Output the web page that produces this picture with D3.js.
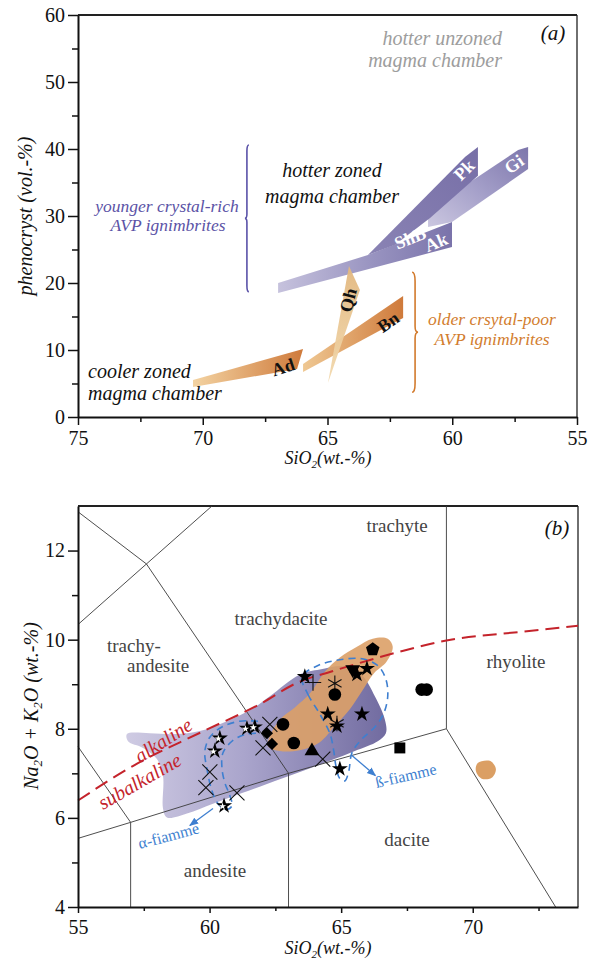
<!DOCTYPE html>
<html>
<head>
<meta charset="utf-8">
<script src="https://cdn.jsdelivr.net/npm/d3@7"></script>
</head>
<body style="margin:0">
<svg id="chart" width="593" height="964"></svg>
<script>
// ---------- Panel (a): phenocryst content vs SiO2 trend bands ----------
const bandAd = [[70.39, 5.52], [65.98, 10.15], [66.22, 7.16], [70.39, 4.48]];
const bandBn = [[65.98, 7.91], [61.97, 18.06], [61.97, 14.78], [65.98, 6.72]];
const bandQh = [[64.14, 22.54], [63.70, 18.96], [64.98, 5.07]];
const bandTrunk = [[66.98, 20.0], [63.38, 24.18], [60.01, 29.1], [60.01, 25.37], [66.98, 18.5]];
const bandPk = [[63.38, 24.18], [59.49, 38.8], [58.97, 40.3], [58.97, 36.0], [60.89, 29.7], [62.29, 25.7]];
const bandGi = [[60.97, 28.36], [60.97, 30.9], [57.36, 39.85], [56.96, 40.3], [56.96, 37.0], [60.01, 29.1]];

const bandLabels = [
  { t: "Pk",  si: 59.53, ph: 36.87, rot: -45, fill: "#fff" },
  { t: "Gi",  si: 57.53, ph: 37.76, rot: -35, fill: "#fff" },
  { t: "ShB", si: 61.69, ph: 26.72, rot: -22, fill: "#fff" },
  { t: "Ak",  si: 60.65, ph: 26.12, rot: -22, fill: "#fff" },
  { t: "Ad",  si: 66.78, ph: 7.46,  rot: -18, fill: "#111" },
  { t: "Bn",  si: 62.57, ph: 14.18, rot: -35, fill: "#111" },
  { t: "Qh",  si: 64.18, ph: 17.46, rot: -75, fill: "#111" }
];

// braces: [SiO2, top, bottom]
const braceYoung = [68.23, 40.6, 18.7];
const braceOld = [61.49, 21.6, 3.7];

const aXMajor = [75, 70, 65, 60, 55];
const aXMinor = [72.5, 67.5, 62.5, 57.5];
const aYMajor = [0, 10, 20, 30, 40, 50, 60];
const aYMinor = [5, 15, 25, 35, 45, 55];

// ---------- Panel (b): TAS diagram ----------
const tasLines = [
  [[55, 12.87], [57.6, 11.7], [63, 7]],
  [[55, 10.34], [60.09, 13]],
  [[55, 7.6], [57, 5.9]],
  [[55, 5.54], [57, 5.9], [63, 7], [69, 8]],
  [[57, 5.9], [57, 4]],
  [[63, 7], [63, 4]],
  [[69, 8], [69, 13]],
  [[69, 8], [73.15, 4]]
];

const alkSi = [55, 57.1, 59.6, 61.84, 63.43, 64.6, 67.23, 69, 71.9, 74];
const alkY  = [6.39, 7.17, 7.9, 8.53, 9.06, 9.28, 9.73, 9.98, 10.18, 10.31];

const fieldPurple = [
  [56.86, 7.88], [57.73, 7.90], [58.68, 7.88], [59.63, 7.95], [60.66, 8.17], [61.65, 8.46],
  [62.29, 8.73], [63.43, 9.22], [64.19, 9.33], [65.14, 9.40], [65.79, 9.20], [66.28, 8.73],
  [66.66, 8.21], [66.70, 7.90], [66.39, 7.72], [65.52, 7.50], [64.57, 7.28], [63.43, 7.03],
  [62.18, 6.76], [61.15, 6.54], [60.13, 6.32], [59.14, 6.10], [58.38, 6.01], [58.23, 6.21],
  [58.23, 6.94], [58.00, 7.32], [57.47, 7.57], [56.90, 7.72]
];
const fieldOrange = [
  [62.29, 7.83], [62.67, 8.21], [63.24, 8.48], [63.81, 8.79], [64.38, 9.28], [64.95, 9.60],
  [65.60, 9.84], [66.20, 10.02], [66.77, 10.02], [66.96, 9.84], [66.73, 9.51], [66.24, 9.24],
  [65.79, 8.84], [65.33, 8.44], [64.76, 8.06], [64.19, 7.70], [63.43, 7.52], [62.67, 7.50],
  [62.22, 7.61]
];
const fieldOrangeSmall = [[70.19, 7.23], [70.65, 7.28], [70.88, 7.10], [70.72, 6.90], [70.34, 6.88], [70.12, 7.05]];

const alphaOutline = [
  [61.84, 8.17], [61.15, 8.17], [60.47, 8.04], [60.01, 7.81], [59.82, 7.50], [59.90, 7.10],
  [60.09, 6.61], [60.32, 6.32], [60.62, 6.19], [60.85, 6.27], [60.77, 6.50], [60.58, 6.79],
  [60.47, 7.12], [60.51, 7.46], [60.85, 7.72], [61.38, 7.88], [61.84, 7.90]
];
const betaOutline = [
  [63.51, 9.17], [63.74, 8.77], [64.19, 8.33], [64.57, 7.90], [64.72, 7.50], [64.80, 7.17],
  [64.95, 6.88], [65.14, 6.83], [65.29, 7.05], [65.41, 7.46], [65.79, 7.77], [66.28, 8.04],
  [66.62, 8.35], [66.77, 8.73], [66.70, 9.11], [66.39, 9.42], [65.79, 9.57], [64.95, 9.55],
  [64.12, 9.42]
];
const alphaArrow = [[60.13, 6.21], [59.25, 5.83]];
const betaArrow = [[65.41, 7.4], [66.3, 6.95]];

// sample compositions [SiO2, Na2O+K2O]
const ptStarWhite = [[60.39, 7.79], [60.20, 7.50], [61.42, 8.01], [61.72, 8.04], [60.55, 6.27]];
const ptStar = [[63.62, 9.17], [64.49, 8.33], [65.79, 8.33], [64.84, 8.06], [64.95, 7.10],
                [65.60, 9.22], [65.98, 9.35]];
const ptCross = [[62.29, 8.10], [62.03, 7.57], [60.01, 7.03], [59.86, 6.68], [61.04, 6.56], [64.30, 7.32]];
const ptDiamond = [[62.18, 7.90], [62.37, 7.66]];
const ptCircle = [[62.79, 8.10], [63.20, 7.68], [64.76, 8.77], [68.06, 8.88], [68.25, 8.88]];
const ptPlus = [[63.93, 9.04]];
const ptAsterisk = [[64.76, 9.02], [64.84, 8.12]];
const ptTriangle = [[63.89, 7.50]];
const ptTriangleDown = [[65.44, 9.33]];
const ptSquare = [[67.23, 7.57]];
const ptPentagon = [[66.20, 9.78]];

const bXMajor = [55, 60, 65, 70];
const bXMinor = [57.5, 62.5, 67.5, 72.5];
const bYMajor = [4, 6, 8, 10, 12];
const bYMinor = [5, 7, 9, 11];

// ---------- setup ----------
const FONT = "Liberation Serif";
const svg = d3.select("#chart");
svg.append("rect").attr("width", 593).attr("height", 964).attr("fill", "#fff");
const defs = svg.append("defs");

function grad(id, stops, x1, y1, x2, y2) {
  const g = defs.append("linearGradient").attr("id", id)
    .attr("x1", x1).attr("y1", y1).attr("x2", x2).attr("y2", y2);
  stops.forEach(s => g.append("stop").attr("offset", s[0]).attr("stop-color", s[1]));
}
grad("gAd", [[0, "#f3d3a2"], [1, "#cf7a3b"]], 0, 0, 1, 0);
grad("gBn", [[0, "#efc893"], [1, "#cf7a3b"]], 0, 0, 1, 0);
grad("gQh", [[0, "#e2b77e"], [1, "#f2d9ae"]], 0, 0, 0, 1);
grad("gTrunk", [[0, "#c6c2dd"], [0.55, "#9893c0"], [1, "#7a73aa"]], 0, 0, 1, 0);
grad("gPk", [[0, "#8a83b4"], [1, "#776fa7"]], 0, 1, 1, 0);
grad("gGi", [[0, "#cbc7e0"], [0.5, "#a39ec8"], [1, "#7d76ab"]], 0, 1, 1, 0);
grad("gField", [[0, "#cfcbe3"], [0.45, "#aaa5cc"], [1, "#716ba0"]], 0, 0, 1, 0);

defs.append("marker").attr("id", "arrBlue").attr("viewBox", "0 0 10 10")
  .attr("refX", 9).attr("refY", 5).attr("markerWidth", 7).attr("markerHeight", 7)
  .attr("orient", "auto")
  .append("path").attr("d", "M0,1 L10,5 L0,9 Z").attr("fill", "#3e7fd0");

function axisStyle(g, fontSize) {
  g.attr("font-family", FONT);
  g.selectAll("text").attr("font-size", fontSize).attr("fill", "#111").attr("font-family", FONT);
  g.selectAll("line").attr("stroke", "#111").attr("stroke-width", 1.5);
  g.select(".domain").attr("stroke", "#111").attr("stroke-width", 2);
}

// =============== PANEL A ===============
const xA = d3.scaleLinear().domain([75, 55]).range([78, 577]);
const yA = d3.scaleLinear().domain([0, 60]).range([417, 15]);
const lineA = d3.line().x(d => xA(d[0])).y(d => yA(d[1]));
const gA = svg.append("g");

// frame (top and right)
gA.append("line").attr("x1", 78).attr("x2", 577).attr("y1", 15).attr("y2", 15)
  .attr("stroke", "#222").attr("stroke-width", 2);
gA.append("line").attr("x1", 577).attr("x2", 577).attr("y1", 15).attr("y2", 417)
  .attr("stroke", "#222").attr("stroke-width", 1.3);

// bands
gA.append("path").attr("d", lineA(bandGi) + "Z").attr("fill", "url(#gGi)");
gA.append("path").attr("d", lineA(bandTrunk) + "Z").attr("fill", "url(#gTrunk)");
gA.append("path").attr("d", lineA(bandPk) + "Z").attr("fill", "url(#gPk)");
gA.append("path").attr("d", lineA(bandAd) + "Z").attr("fill", "url(#gAd)");
gA.append("path").attr("d", lineA(bandBn) + "Z").attr("fill", "url(#gBn)");
gA.append("path").attr("d", lineA(bandQh) + "Z").attr("fill", "url(#gQh)").attr("opacity", 0.95);

gA.selectAll("text.band").data(bandLabels).join("text")
  .attr("class", "band")
  .attr("transform", d => `translate(${xA(d.si)},${yA(d.ph)}) rotate(${d.rot})`)
  .attr("text-anchor", "middle").attr("dy", "0.35em")
  .attr("font-family", FONT)
  .attr("font-size", 18).attr("font-weight", "bold").attr("fill", d => d.fill)
  .text(d => d.t);

// braces
function bracePath(x, y1, y2, w, dir) {
  const ym = (y1 + y2) / 2;
  return `M${x - dir * w},${y1} Q${x},${y1} ${x},${y1 + 3 * w} L${x},${ym - 2 * w}` +
    ` Q${x},${ym} ${x + dir * w},${ym} Q${x},${ym} ${x},${ym + 2 * w}` +
    ` L${x},${y2 - 3 * w} Q${x},${y2} ${x - dir * w},${y2}`;
}
gA.append("path")
  .attr("d", bracePath(xA(braceYoung[0]), yA(braceYoung[1]), yA(braceYoung[2]), 2, -1))
  .attr("fill", "none").attr("stroke", "#5a52a8").attr("stroke-width", 1.6);
gA.append("path")
  .attr("d", bracePath(xA(braceOld[0]), yA(braceOld[1]), yA(braceOld[2]), 3, 1))
  .attr("fill", "none").attr("stroke", "#d27a2c").attr("stroke-width", 1.6);

// annotations
function txt(g, x, y, s, opts) {
  const t = g.append("text").attr("x", x).attr("y", y).text(s)
    .attr("font-family", FONT)
    .attr("font-size", opts.size || 20)
    .attr("fill", opts.fill || "#111")
    .attr("text-anchor", opts.anchor || "start");
  if (opts.italic) t.attr("font-style", "italic");
  return t;
}
txt(gA, 553, 40, "(a)", { italic: true, anchor: "middle", size: 21 });
txt(gA, 502, 45, "hotter unzoned", { italic: true, anchor: "end", fill: "#9d9d9d" });
txt(gA, 502, 67, "magma chamber", { italic: true, anchor: "end", fill: "#9d9d9d" });
txt(gA, 332, 177, "hotter zoned", { italic: true, anchor: "middle" });
txt(gA, 332, 203, "magma chamber", { italic: true, anchor: "middle" });
txt(gA, 167, 212, "younger crystal-rich", { italic: true, anchor: "middle", size: 17.5, fill: "#5b53a6" });
txt(gA, 168, 231, "AVP ignimbrites", { italic: true, anchor: "middle", size: 17.5, fill: "#5b53a6" });
txt(gA, 492, 325, "older crsytal-poor", { italic: true, anchor: "middle", size: 17.5, fill: "#d27d2e" });
txt(gA, 492, 345, "AVP ignimbrites", { italic: true, anchor: "middle", size: 17.5, fill: "#d27d2e" });
txt(gA, 88, 378, "cooler zoned", { italic: true });
txt(gA, 88, 400, "magma chamber", { italic: true });

// axes
const axAx = gA.append("g").attr("transform", "translate(0,417)")
  .call(d3.axisBottom(xA).tickValues(aXMajor).tickSize(8).tickPadding(6).tickSizeOuter(0).tickFormat(d3.format("d")));
axisStyle(axAx, 20);
const axAxm = gA.append("g").attr("transform", "translate(0,417)")
  .call(d3.axisBottom(xA).tickValues(aXMinor).tickSize(5).tickFormat(""));
axAxm.select(".domain").remove();
axAxm.selectAll("line").attr("stroke", "#111").attr("stroke-width", 1.5);
const axAy = gA.append("g").attr("transform", "translate(78,0)")
  .call(d3.axisLeft(yA).tickValues(aYMajor).tickSize(10).tickPadding(3).tickSizeOuter(0).tickFormat(d3.format("d")));
axisStyle(axAy, 20);
const axAym = gA.append("g").attr("transform", "translate(78,0)")
  .call(d3.axisLeft(yA).tickValues(aYMinor).tickSize(6).tickFormat(""));
axAym.select(".domain").remove();
axAym.selectAll("line").attr("stroke", "#111").attr("stroke-width", 1.5);

const xTitleA = txt(gA, 328, 464, "", { italic: true, anchor: "middle", size: 18 });
xTitleA.append("tspan").text("SiO");
xTitleA.append("tspan").text("2").attr("font-size", 11).attr("dy", 4);
xTitleA.append("tspan").text("(wt.-%)").attr("dy", -4);
txt(gA, 0, 0, "phenocryst (vol.-%)", { italic: true, anchor: "middle", size: 20 })
  .attr("transform", "translate(32,216) rotate(-90)");

// =============== PANEL B ===============
const xB = d3.scaleLinear().domain([55, 74]).range([78, 578]);
const yB = d3.scaleLinear().domain([4, 13]).range([907, 506]);
const lineB = d3.line().x(d => xB(d[0])).y(d => yB(d[1]));
const gB = svg.append("g");

gB.append("line").attr("x1", 78).attr("x2", 578).attr("y1", 506).attr("y2", 506)
  .attr("stroke", "#222").attr("stroke-width", 2);
gB.append("line").attr("x1", 578).attr("x2", 578).attr("y1", 506).attr("y2", 907)
  .attr("stroke", "#222").attr("stroke-width", 1.3);

// fields
const blob = d3.line().x(d => xB(d[0])).y(d => yB(d[1])).curve(d3.curveCatmullRomClosed.alpha(0.5));
gB.append("path").attr("d", blob(fieldPurple)).attr("fill", "url(#gField)");
gB.append("path").attr("d", blob(fieldOrange)).attr("fill", "#dca067").attr("opacity", 0.9);
gB.append("path").attr("d", blob(fieldOrangeSmall)).attr("fill", "#d99a5c").attr("opacity", 0.95);

// classification boundaries
gB.selectAll("path.tas").data(tasLines).join("path").attr("class", "tas")
  .attr("d", d => lineB(d)).attr("fill", "none").attr("stroke", "#3a3a3a").attr("stroke-width", 0.9);

// fiamme outlines
const openCurve = d3.line().x(d => xB(d[0])).y(d => yB(d[1])).curve(d3.curveCatmullRom.alpha(0.5));
gB.append("path").attr("d", openCurve(alphaOutline)).attr("fill", "none")
  .attr("stroke", "#3e7fd0").attr("stroke-width", 1.6).attr("stroke-dasharray", "7,5");
gB.append("path").attr("d", blob(betaOutline)).attr("fill", "none")
  .attr("stroke", "#3e7fd0").attr("stroke-width", 1.6).attr("stroke-dasharray", "7,5");
gB.append("path").attr("d", lineB(alphaArrow)).attr("stroke", "#3e7fd0").attr("stroke-width", 1.3)
  .attr("marker-end", "url(#arrBlue)");
gB.append("path").attr("d", lineB(betaArrow)).attr("stroke", "#3e7fd0").attr("stroke-width", 1.3)
  .attr("marker-end", "url(#arrBlue)");
txt(gB, 0, 0, "α-fiamme", { anchor: "middle", size: 16, fill: "#3e7fd0" })
  .attr("transform", "translate(170,841) rotate(-15)");
txt(gB, 0, 0, "ß-fiamme", { anchor: "middle", size: 16, fill: "#3e7fd0" })
  .attr("transform", "translate(407,781) rotate(-13)");

// alkaline / subalkaline divide
const alkLine = d3.line().x((d, i) => xB(alkSi[i])).y(d => yB(d)).curve(d3.curveMonotoneX);
gB.append("path").attr("d", alkLine(alkY)).attr("fill", "none")
  .attr("stroke", "#c4232b").attr("stroke-width", 2).attr("stroke-dasharray", "14,7");
txt(gB, 0, 0, "alkaline", { italic: true, anchor: "middle", size: 20, fill: "#c4232b" })
  .attr("transform", "translate(167,746) rotate(-33)");
txt(gB, 0, 0, "subalkaline", { italic: true, anchor: "middle", size: 20, fill: "#c4232b" })
  .attr("transform", "translate(143,787) rotate(-30)");

// region labels
const lab = { anchor: "middle", size: 19, fill: "#444" };
txt(gB, 397, 532, "trachyte", lab);
txt(gB, 281, 625, "trachydacite", lab);
txt(gB, 107, 652, "trachy-", { size: 19, fill: "#444" });
txt(gB, 127, 672, "andesite", { size: 19, fill: "#444" });
txt(gB, 516, 668, "rhyolite", lab);
txt(gB, 215, 877, "andesite", lab);
txt(gB, 407, 846, "dacite", lab);
txt(gB, 557, 535, "(b)", { italic: true, anchor: "middle", size: 21 });

// sample markers
const symPentagon = {
  draw(ctx, size) {
    const r = Math.sqrt(size / 2.378);
    for (let i = 0; i < 5; i++) {
      const a = -Math.PI / 2 + i * 2 * Math.PI / 5;
      const px = r * Math.cos(a), py = r * Math.sin(a);
      if (i) ctx.lineTo(px, py); else ctx.moveTo(px, py);
    }
    ctx.closePath();
  }
};
function drawPts(data, type, size, opts) {
  gB.append("g").selectAll("path").data(data).join("path")
    .attr("transform", d => `translate(${xB(d[0]) + (opts.dx || 0)},${yB(d[1]) + (opts.dy || 0)}) rotate(${opts.rot || 0})`)
    .attr("d", d3.symbol().type(type).size(size))
    .attr("fill", opts.stroke ? "none" : (opts.fill || "#000"))
    .attr("stroke", opts.stroke ? "#111" : "none")
    .attr("stroke-width", opts.stroke ? 1.1 : 0);
}
drawPts(ptCross, d3.symbolTimes, 150, { stroke: true });
drawPts(ptPlus, d3.symbolPlus, 90, { stroke: true });
drawPts(ptAsterisk, d3.symbolAsterisk, 170, { stroke: true });
drawPts(ptDiamond, d3.symbolDiamond2, 95, {});
drawPts(ptCircle, d3.symbolCircle, 125, {});
drawPts(ptTriangle, d3.symbolTriangle, 95, {});
drawPts(ptTriangleDown, d3.symbolTriangle, 95, { rot: 180 });
drawPts(ptSquare, d3.symbolSquare, 120, {});
drawPts(ptPentagon, symPentagon, 120, {});
drawPts(ptStar, d3.symbolStar, 80, {});
drawPts(ptStarWhite, d3.symbolStar, 80, {});
drawPts(ptStarWhite, d3.symbolStar, 16, { fill: "#fff", dx: -1.5, dy: 0.5 });

// axes
const axBx = gB.append("g").attr("transform", "translate(0,907)")
  .call(d3.axisBottom(xB).tickValues(bXMajor).tickSize(6).tickPadding(7).tickSizeOuter(0).tickFormat(d3.format("d")));
axisStyle(axBx, 20);
const axBxm = gB.append("g").attr("transform", "translate(0,907)")
  .call(d3.axisBottom(xB).tickValues(bXMinor).tickSize(4).tickFormat(""));
axBxm.select(".domain").remove();
axBxm.selectAll("line").attr("stroke", "#111").attr("stroke-width", 1.5);
const axBy = gB.append("g").attr("transform", "translate(78,0)")
  .call(d3.axisLeft(yB).tickValues(bYMajor).tickSize(10).tickPadding(3).tickSizeOuter(0).tickFormat(d3.format("d")));
axisStyle(axBy, 20);
const axBym = gB.append("g").attr("transform", "translate(78,0)")
  .call(d3.axisLeft(yB).tickValues(bYMinor).tickSize(6).tickFormat(""));
axBym.select(".domain").remove();
axBym.selectAll("line").attr("stroke", "#111").attr("stroke-width", 1.5);

const xTitleB = txt(gB, 328, 954, "", { italic: true, anchor: "middle", size: 18 });
xTitleB.append("tspan").text("SiO");
xTitleB.append("tspan").text("2").attr("font-size", 11).attr("dy", 4);
xTitleB.append("tspan").text("(wt.-%)").attr("dy", -4);

const yTitleB = txt(gB, 0, 0, "", { italic: true, anchor: "middle", size: 20 })
  .attr("transform", "translate(38,706) rotate(-90)");
yTitleB.append("tspan").text("Na");
yTitleB.append("tspan").text("2").attr("font-size", 13).attr("dy", 4);
yTitleB.append("tspan").text("O + K").attr("dy", -4);
yTitleB.append("tspan").text("2").attr("font-size", 13).attr("dy", 4);
yTitleB.append("tspan").text("O (wt.-%)").attr("dy", -4);
</script>
</body>
</html>
